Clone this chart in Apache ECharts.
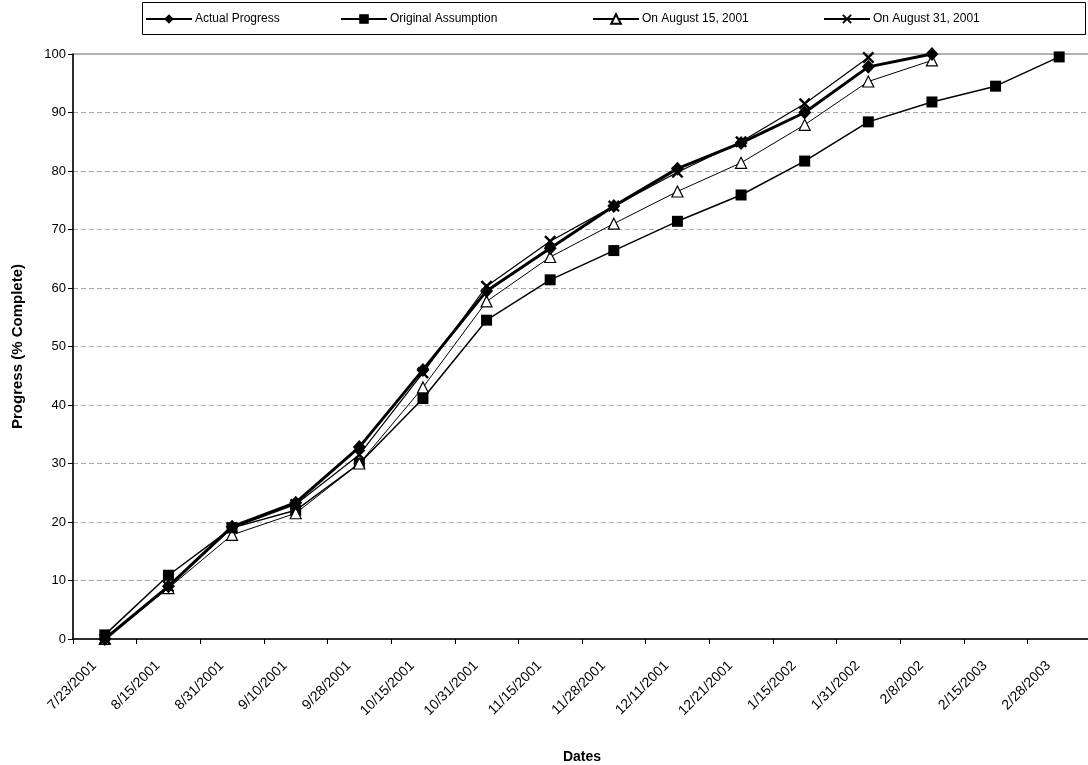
<!DOCTYPE html>
<html>
<head>
<meta charset="utf-8">
<script src="https://cdn.jsdelivr.net/npm/echarts@6/dist/echarts.min.js"></script>
<style>
  html, body { margin: 0; padding: 0; background: #fff; }
  #chart { width: 1088px; height: 765px; }
</style>
</head>
<body>
<div id="chart"></div>
<script>
// Progress dates (x categories)
const dates = ['7/23/2001', '8/15/2001', '8/31/2001', '9/10/2001', '9/28/2001', '10/15/2001',
  '10/31/2001', '11/15/2001', '11/28/2001', '12/11/2001', '12/21/2001', '1/15/2002',
  '1/31/2002', '2/8/2002', '2/15/2003', '2/28/2003'];

// Percent complete per series
const actualProgress = [0, 9, 19.2, 23.3, 32.8, 46, 59.5, 66.8, 74, 80.4, 84.8, 90, 97.8, 100, null, null];
const originalAssumption = [0.7, 10.9, 19, 22, 30, 41.1, 54.5, 61.4, 66.4, 71.4, 75.9, 81.7, 88.4, 91.8, 94.5, 99.5];
const onAug15 = [0, 8.7, 17.8, 21.5, 30, 43, 57.7, 65.3, 71, 76.5, 81.4, 87.9, 95.3, 98.9, null, null];
const onAug31 = [0, 9, 19, 23, 31.5, 45.5, 60.3, 68, 74, 79.8, 85, 91.5, 99.4, null, null, null];

const yTicks = [0, 10, 20, 30, 40, 50, 60, 70, 80, 90, 100];

const seriesNames = ['Actual Progress', 'Original Assumption', 'On August 15, 2001', 'On August 31, 2001'];

// filled "x" marker outline
const xMark = 'path://M0,1.4L1.4,0L5,3.6L8.6,0L10,1.4L6.4,5L10,8.6L8.6,10L5,6.4L1.4,10L0,8.6L3.6,5Z';

const chart = echarts.init(document.getElementById('chart'));

const font = 'Liberation Sans, Arial, sans-serif';
const legendLefts = [145, 340, 592, 823];

const legends = seriesNames.map((n, i) => ({
  data: [n],
  left: legendLefts[i],
  top: 13,
  itemWidth: 46,
  itemHeight: 12,
  itemGap: 3,
  padding: 0,
  textStyle: { fontFamily: font, fontSize: 12, color: '#000', padding: [0, 0, 0, -2] }
}));

chart.setOption({
  animation: false,
  backgroundColor: '#fff',
  graphic: [{
    type: 'rect',
    shape: { x: 142.5, y: 2.5, width: 943, height: 32 },
    style: { fill: 'none', stroke: '#000', lineWidth: 1 },
    z: -1
  }],
  legend: legends,
  grid: {
    left: 73, right: -3, top: 54, bottom: 126,
    outerBoundsMode: 'none',
    containLabel: false,
    show: true, borderColor: '#666', borderWidth: 1, backgroundColor: 'transparent'
  },
  xAxis: {
    type: 'category',
    data: dates,
    boundaryGap: true,
    name: 'Dates',
    nameLocation: 'middle',
    nameGap: 111,
    nameTextStyle: { fontFamily: font, fontSize: 14, fontWeight: 'bold', color: '#000' },
    axisLine: { lineStyle: { color: '#000', width: 1.5 } },
    axisTick: { show: true, alignWithLabel: false, length: 5, lineStyle: { color: '#000' } },
    axisLabel: {
      rotate: 45, fontFamily: font, fontSize: 14, color: '#000', margin: 14, interval: 0,
      padding: [0, 15, 0, 0]
    },
    splitLine: { show: false }
  },
  yAxis: {
    type: 'value',
    min: yTicks[0],
    max: yTicks[yTicks.length - 1],
    interval: 10,
    name: 'Progress (% Complete)',
    nameLocation: 'middle',
    nameGap: 48,
    nameTextStyle: { fontFamily: font, fontSize: 15, fontWeight: 'bold', color: '#000' },
    axisLine: { show: true, lineStyle: { color: '#000', width: 1.5 } },
    axisTick: { show: true, length: 5, lineStyle: { color: '#000' } },
    axisLabel: { fontFamily: font, fontSize: 13, color: '#000', margin: 7 },
    splitLine: { show: true, lineStyle: { color: '#aaa', type: [5, 3], width: 1 } }
  },
  series: [
    {
      name: seriesNames[1], type: 'line', data: originalAssumption, z: 2,
      symbol: 'rect', symbolSize: 11,
      lineStyle: { color: '#000', width: 1.5 },
      itemStyle: { color: '#000', borderColor: '#000', borderWidth: 0 }
    },
    {
      name: seriesNames[2], type: 'line', data: onAug15, z: 3,
      symbol: 'triangle', symbolSize: [11, 11],
      lineStyle: { color: '#000', width: 1 },
      itemStyle: { color: '#fff', borderColor: '#000', borderWidth: 1.2 }
    },
    {
      name: seriesNames[3], type: 'line', data: onAug31, z: 4,
      symbol: xMark, symbolSize: 12,
      lineStyle: { color: '#000', width: 1.2 },
      itemStyle: { color: '#000', borderWidth: 0 }
    },
    {
      name: seriesNames[0], type: 'line', data: actualProgress, z: 5,
      symbol: 'diamond', symbolSize: [13, 14],
      lineStyle: { color: '#000', width: 3 },
      itemStyle: { color: '#000', borderWidth: 0 }
    }
  ]
});
</script>
</body>
</html>
